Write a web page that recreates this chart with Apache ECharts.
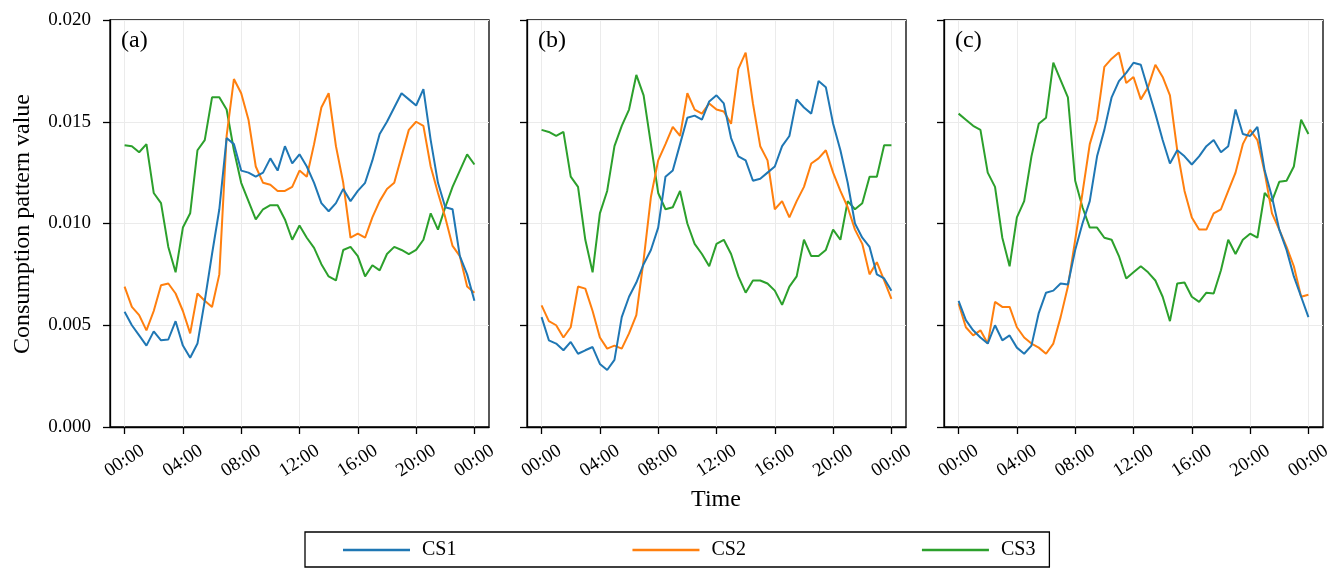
<!DOCTYPE html>
<html>
<head>
<meta charset="utf-8">
<script src="https://cdn.jsdelivr.net/npm/echarts@6/dist/echarts.min.js"></script>
<style>
  html, body { margin: 0; padding: 0; background: #fff; }
  #chart { width: 1338px; height: 571px; }
</style>
</head>
<body>
<div id="chart"></div>
<script>
// half-hourly time of day, in hours
const hours = [0, 0.5, 1, 1.5, 2, 2.5, 3, 3.5, 4, 4.5, 5, 5.5, 6, 6.5, 7, 7.5, 8, 8.5, 9, 9.5,
  10, 10.5, 11, 11.5, 12, 12.5, 13, 13.5, 14, 14.5, 15, 15.5, 16, 16.5, 17, 17.5, 18, 18.5, 19, 19.5,
  20, 20.5, 21, 21.5, 22, 22.5, 23, 23.5, 24]
const tickHours = [0, 4, 8, 12, 16, 20, 24]
const tickLabels = ['00:00', '04:00', '08:00', '12:00', '16:00', '20:00', '00:00']
const panelNames = ['(a)', '(b)', '(c)']
const seriesNames = ['CS1', 'CS2', 'CS3']

// panel (a)
const csA1 = [0.00566, 0.0050, 0.0045, 0.0040, 0.0047, 0.00426, 0.0043, 0.0052, 0.0040, 0.0034, 0.0041, 0.0062, 0.0085, 0.0107, 0.0142, 0.0139, 0.0126, 0.0125, 0.0123, 0.0125, 0.0132, 0.0126, 0.0138, 0.01295, 0.0134,
  0.0128, 0.0120, 0.0110, 0.0106, 0.0110, 0.0117, 0.0111, 0.0116, 0.0120, 0.0131, 0.0144, 0.0150, 0.0157, 0.0164, 0.0161, 0.0158, 0.0166, 0.0141, 0.0120, 0.0108, 0.0107, 0.0084, 0.0075, 0.0062]
const csA2 = [0.0069, 0.0059, 0.0055, 0.00475, 0.0057, 0.00697, 0.00705, 0.00656, 0.0057, 0.0046, 0.00656, 0.0062, 0.0059, 0.0075, 0.0143, 0.0171, 0.0164, 0.0151, 0.0128, 0.0120, 0.0119, 0.0116, 0.0116, 0.0118, 0.0126,
  0.0123, 0.0139, 0.0157, 0.0164, 0.0138, 0.0120, 0.0093, 0.0095, 0.0093, 0.0103, 0.0111, 0.0117, 0.0120, 0.0133, 0.0146, 0.0150, 0.0148, 0.0128, 0.0115, 0.0103, 0.0089, 0.0084, 0.0069, 0.0066]
const csA3 = [0.01385, 0.0138, 0.0135, 0.0139, 0.0115, 0.0110, 0.00885, 0.0076, 0.0098, 0.0105, 0.0136, 0.0141, 0.0162, 0.0162, 0.0156, 0.0136, 0.0120, 0.0111, 0.0102, 0.0107, 0.0109, 0.0109, 0.0102, 0.0092, 0.0099,
  0.0093, 0.0088, 0.0080, 0.0074, 0.0072, 0.0087, 0.00885, 0.0084, 0.0074, 0.00795, 0.0077, 0.0085, 0.00885, 0.0087, 0.0085, 0.0087, 0.0092, 0.0105, 0.0097, 0.0108, 0.0118, 0.0126, 0.0134, 0.0129]

// panel (b)
const csB1 = [0.0054, 0.00426, 0.0041, 0.00377, 0.00418, 0.0036, 0.00377, 0.00393, 0.0031, 0.0028, 0.0033, 0.0054, 0.0064, 0.0071, 0.0080, 0.0087, 0.0098, 0.0123, 0.0126, 0.0139, 0.0152, 0.0153, 0.0151, 0.0160, 0.0163,
  0.0159, 0.0142, 0.0133, 0.0131, 0.0121, 0.0122, 0.0125, 0.0128, 0.0138, 0.0143, 0.0161, 0.0157, 0.0154, 0.0170, 0.0167, 0.0149, 0.0136, 0.0120, 0.0100, 0.0093, 0.00885, 0.0075, 0.0073, 0.0067]
const csB2 = [0.00598, 0.0052, 0.0050, 0.0044, 0.0049, 0.0069, 0.0068, 0.0057, 0.0044, 0.00385, 0.0040, 0.00385, 0.0046, 0.0055, 0.0082, 0.0113, 0.0131, 0.0139, 0.01475, 0.0143, 0.0164, 0.0156, 0.0154, 0.0159, 0.0156,
  0.0155, 0.0149, 0.0176, 0.0184, 0.0159, 0.0138, 0.0131, 0.0107, 0.0111, 0.0103, 0.0111, 0.0118, 0.01295, 0.0132, 0.0136, 0.0125, 0.0116, 0.0108, 0.0097, 0.0090, 0.0075, 0.0081, 0.0072, 0.0063]
const csB3 = [0.0146, 0.0145, 0.0143, 0.0145, 0.0123, 0.0118, 0.0092, 0.0076, 0.0105, 0.0116, 0.0138, 0.0148, 0.0156, 0.0173, 0.0163, 0.0139, 0.0115, 0.0107, 0.0108, 0.0116, 0.0100, 0.0090, 0.0085, 0.0079, 0.0090,
  0.0092, 0.0085, 0.0074, 0.0066, 0.0072, 0.0072, 0.00705, 0.0067, 0.0060, 0.0069, 0.0074, 0.0092, 0.0084, 0.0084, 0.0087, 0.0097, 0.0092, 0.0111, 0.0107, 0.0110, 0.0123, 0.0123, 0.01385, 0.01385]

// panel (c)
const csC1 = [0.0062, 0.00525, 0.00475, 0.0044, 0.0041, 0.0050, 0.00426, 0.0045, 0.0039, 0.0036, 0.0040, 0.0056, 0.0066, 0.0067, 0.00705, 0.0070, 0.0087, 0.0100, 0.0111, 0.0133, 0.0146, 0.0162, 0.0170, 0.0174, 0.0179,
  0.0178, 0.0166, 0.0154, 0.0141, 0.01295, 0.0136, 0.0133, 0.0129, 0.0133, 0.0138, 0.0141, 0.0135, 0.0138, 0.0156, 0.0144, 0.0143, 0.01475, 0.0126, 0.0113, 0.0097, 0.0087, 0.0074, 0.0064, 0.0054]
const csC2 = [0.00607, 0.0049, 0.0045, 0.00475, 0.0041, 0.00615, 0.0059, 0.0059, 0.0049, 0.0044, 0.0041, 0.0039, 0.0036, 0.0041, 0.0054, 0.0069, 0.0092, 0.0115, 0.0139, 0.0151, 0.0177, 0.0181, 0.0184, 0.0169, 0.0172,
  0.0161, 0.0167, 0.0178, 0.0172, 0.0163, 0.0136, 0.0116, 0.0103, 0.0097, 0.0097, 0.0105, 0.0107, 0.0116, 0.0125, 0.0139, 0.0146, 0.0141, 0.0125, 0.0105, 0.0097, 0.00885, 0.0079, 0.0064, 0.0065]
const csC3 = [0.0154, 0.0151, 0.0148, 0.0146, 0.0125, 0.0118, 0.0093, 0.0079, 0.0103, 0.0111, 0.0133, 0.0149, 0.0152, 0.0179, 0.01705, 0.0162, 0.0121, 0.0108, 0.0098, 0.0098, 0.0093, 0.0092, 0.0084, 0.0073, 0.0076,
  0.0079, 0.0076, 0.0072, 0.0064, 0.0052, 0.00705, 0.0071, 0.0064, 0.00615, 0.0066, 0.00656, 0.0077, 0.0092, 0.0085, 0.0092, 0.0095, 0.0093, 0.0115, 0.0111, 0.01205, 0.0121, 0.0128, 0.0151, 0.0144]

const panels = [[csA1, csA2, csA3], [csB1, csB2, csB3], [csC1, csC2, csC3]]
const colors = ['#1f77b4', '#ff7f0e', '#2ca02c']

const font = '"Liberation Serif", "Times New Roman", serif'
const gridLefts = [110, 527, 944]

const chart = echarts.init(document.getElementById('chart'))

const grids = gridLefts.map(left => ({
  left: left,
  top: 20,
  width: 379,
  height: 407,
  show: true,
  borderColor: '#000',
  borderWidth: 1.3,
  backgroundColor: 'transparent'
}))

const xAxes = gridLefts.map((_, i) => ({
  type: 'value',
  gridIndex: i,
  min: -1,
  max: 25,
  axisLine: { show: true, onZero: false, lineStyle: { color: '#000', width: 1.3 } },
  axisTick: { show: true, length: 7, lineStyle: { color: '#000', width: 1.3 }, customValues: tickHours },
  splitLine: { show: true, lineStyle: { color: '#ebebeb', width: 1 } },
  axisLabel: {
    customValues: tickHours,
    formatter: v => tickLabels[tickHours.indexOf(v)],
    rotate: 33,
    align: 'center',
    verticalAlign: 'middle',
    margin: 34,
    color: '#000',
    fontFamily: font,
    fontSize: 19
  }
}))

const yAxes = gridLefts.map((_, i) => ({
  type: 'value',
  gridIndex: i,
  min: 0,
  max: 0.02,
  interval: 0.005,
  axisLine: { show: true, onZero: false, lineStyle: { color: '#000', width: 1.3 } },
  axisTick: { show: true, length: 7, lineStyle: { color: '#000', width: 1.3 } },
  splitLine: { show: true, lineStyle: { color: '#ebebeb', width: 1 } },
  axisLabel: {
    show: i === 0,
    formatter: v => v.toFixed(3),
    margin: 19,
    color: '#000',
    fontFamily: font,
    fontSize: 19
  }
}))

const series = []
panels.forEach((panel, p) => {
  panel.forEach((vals, s) => {
    series.push({
      name: seriesNames[s],
      type: 'line',
      xAxisIndex: p,
      yAxisIndex: p,
      data: hours.map((h, k) => [h, vals[k]]),
      symbol: 'none',
      lineStyle: { color: colors[s], width: 2 },
      itemStyle: { color: colors[s] },
      z: 3 + (2 - s)
    })
  })
})

const option = {
  animation: false,
  backgroundColor: '#fff',
  title: panelNames.map((t, i) => ({
    text: t,
    left: gridLefts[i] + 11,
    top: 29,
    padding: 0,
    textStyle: { fontFamily: font, fontSize: 24, fontWeight: 'normal', color: '#000' }
  })),
  grid: grids,
  xAxis: xAxes,
  yAxis: yAxes,
  legend: {
    data: seriesNames,
    left: 305,
    top: 532,
    orient: 'horizontal',
    icon: 'rect',
    itemWidth: 67,
    itemHeight: 2.5,
    itemGap: 176,
    padding: [8, 14, 7, 38],
    borderColor: '#000',
    borderWidth: 1.3,
    borderRadius: 0,
    backgroundColor: '#fff',
    textStyle: { fontFamily: font, fontSize: 20, color: '#000', padding: [0, 0, 0, 7] }
  },
  graphic: [
    {
      type: 'text',
      x: 23,
      y: 224,
      rotation: Math.PI / 2,
      style: {
        text: 'Consumption pattern value',
        font: '24px ' + font,
        fill: '#000',
        align: 'center',
        verticalAlign: 'middle'
      }
    },
    {
      type: 'text',
      x: 716,
      y: 500,
      style: {
        text: 'Time',
        font: '24px ' + font,
        fill: '#000',
        align: 'center',
        verticalAlign: 'middle'
      }
    }
  ],
  series: series
}

chart.setOption(option)
</script>
</body>
</html>
